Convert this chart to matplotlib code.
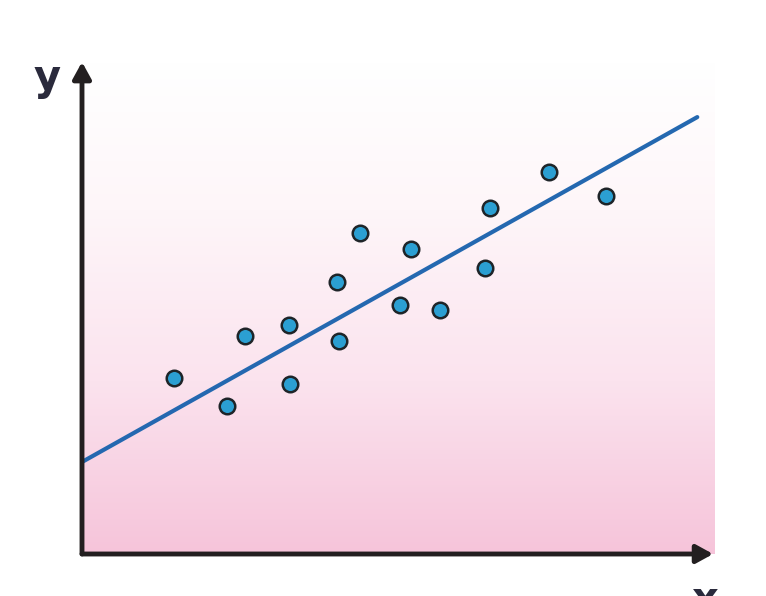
import numpy as np
import matplotlib.pyplot as plt
from matplotlib.colors import LinearSegmentedColormap

# scatter points (chart units, axes span 0..10 in both directions)
x_vals = [1.45, 2.29, 2.58, 3.27, 3.29, 4.03, 4.06, 4.39, 5.02, 5.20, 5.66, 6.37, 6.45, 7.38, 8.28]
y_vals = [3.58, 3.01, 4.43, 4.65, 3.46, 5.53, 4.33, 6.52, 5.06, 6.20, 4.96, 5.81, 7.03, 7.76, 7.28]

# fitted line end points
line_x = [0.0, 9.72]
line_y = [1.87, 8.88]

W, H = 766, 596
fig = plt.figure(figsize=(W / 100, H / 100), dpi=100)
left, right, bottom, top = 82, 715, 554, 62
ax = fig.add_axes([left / W, (H - bottom) / H, (right - left) / W, (bottom - top) / H])
ax.set_xlim(0, 10)
ax.set_ylim(0, 10)
ax.axis('off')

# white -> pink vertical gradient
cmap = LinearSegmentedColormap.from_list(
    'pinkfade', [(0.0, '#f6c4da'), (0.35, '#fbe3ee'), (0.7, '#fef6f9'), (1.0, '#ffffff')])
grad = np.linspace(0, 1, 256).reshape(-1, 1)
ax.imshow(grad, cmap=cmap, origin='lower', extent=[0, 10, 0, 10], aspect='auto', zorder=0)

ax.plot(line_x, line_y, color='#2468b0', lw=3.0, solid_capstyle='round', zorder=2)
ax.scatter(x_vals, y_vals, s=125, color='#2b9fd2', edgecolor='#1e2428', linewidth=1.8, zorder=3)

# axes with arrowheads
arrow = dict(arrowstyle='-|>,head_length=1.0,head_width=0.55', color='#231f20', lw=3.5,
             shrinkA=0, shrinkB=0)
ax.annotate('', xy=(0, 1.0), xytext=(0, 0), xycoords='axes fraction',
            arrowprops=arrow, annotation_clip=False)
ax.annotate('', xy=(0.997, 0), xytext=(0, 0), xycoords='axes fraction',
            arrowprops=arrow, annotation_clip=False)

fig.text(47 / W, 1 - 78 / H, 'y', fontsize=30, fontweight='bold', color='#2a2a3c',
         ha='center', va='center')
fig.text(705 / W, 1 - 600 / H, 'x', fontsize=30, fontweight='bold', color='#2a2a3c',
         ha='center', va='center')

fig.savefig('out.png', dpi=100, facecolor='white')
